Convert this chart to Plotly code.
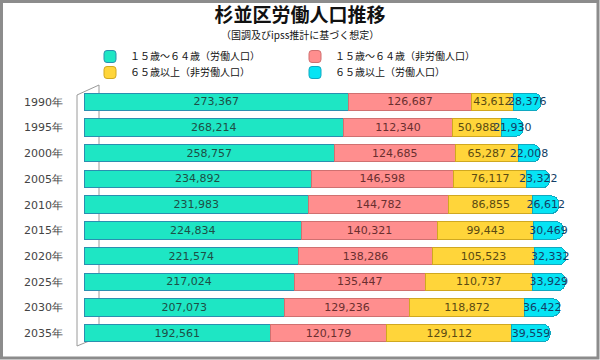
import plotly.graph_objects as go

years = ["1990年", "1995年", "2000年", "2005年", "2010年", "2015年", "2020年", "2025年", "2030年", "2035年"]
work_15_64 = [273367, 268214, 258757, 234892, 231983, 224834, 221574, 217024, 207073, 192561]
nonwork_15_64 = [126687, 112340, 124685, 146598, 144782, 140321, 138286, 135447, 129236, 120179]
nonwork_65 = [43612, 50988, 65287, 76117, 86855, 99443, 105523, 110737, 118872, 129112]
work_65 = [28376, 21930, 22008, 23322, 26612, 30469, 32332, 33929, 36422, 39559]

names = ["１５歳～６４歳（労働人口）", "１５歳～６４歳（非労働人口）", "６５歳以上（非労働人口）", "６５歳以上（労働人口）"]
series = [work_15_64, nonwork_15_64, nonwork_65, work_65]
fills = ["#1ee6c4", "#ff8e8e", "#ffd53a", "#06e4f4"]
lines = ["#2a8fb0", "#d07070", "#d0a820", "#10a8c0"]
tcolors = ["#1d4f46", "#6a2e2e", "#5a4a12", "#123e66"]
legs = ["legend", "legend2", "legend3", "legend4"]

W, H = 600, 360
L, R, T, B = 84, 16, 89, 14
pw, ph = W - L - R, H - T - B

def px(x):
    return (x - L) / pw

def py(y):
    return (H - B - y) / ph

fig = go.Figure()
for name, vals, fc, lc, tc, lg in zip(names, series, fills, lines, tcolors, legs):
    fig.add_trace(go.Bar(
        y=years, x=vals, orientation="h", name=name,
        marker=dict(color=fc, line=dict(color=lc, width=1)),
        text=[f"{v:,}" for v in vals], textposition="inside",
        insidetextanchor="middle",
        textfont=dict(family="DejaVu Sans", size=11, color=tc),
        legend=lg, showlegend=True,
    ))

shapes = [
    dict(type="rect", xref="paper", yref="paper", x0=px(1.5), x1=px(598), y0=py(1.5), y1=py(358),
         line=dict(color="#8c8c8c", width=3), layer="above"),
    dict(type="line", xref="paper", yref="paper", x0=px(77), x1=px(77), y0=py(95), y1=py(346),
         line=dict(color="#9a9a9a", width=1), layer="below"),
    dict(type="line", xref="paper", yref="paper", x0=px(99), x1=px(99), y0=py(85), y1=py(337),
         line=dict(color="#9a9a9a", width=1), layer="below"),
    dict(type="line", xref="paper", yref="paper", x0=px(77), x1=px(99), y0=py(95), y1=py(85),
         line=dict(color="#9a9a9a", width=1), layer="below"),
    dict(type="line", xref="paper", yref="paper", x0=px(77), x1=px(99), y0=py(346), y1=py(337),
         line=dict(color="#9a9a9a", width=1), layer="below"),
]

leg_font = dict(family="Noto Sans CJK JP", size=10, color="#111")
leg_pos = {"legend": (90, 42), "legend2": (295, 42), "legend3": (90, 58), "legend4": (295, 58)}
leg_layout = {}
for k, (lx, ly) in leg_pos.items():
    leg_layout[k] = dict(x=px(lx), y=py(ly), xanchor="left", yanchor="top", itemwidth=30,
                         bgcolor="rgba(0,0,0,0)", font=leg_font, visible=True)

fig.update_layout(
    width=W, height=H,
    margin=dict(l=L, r=R, t=T, b=B, autoexpand=False),
    paper_bgcolor="white", plot_bgcolor="white",
    showlegend=True,
    barmode="stack", bargap=0.32, barcornerradius=7,
    uniformtext=dict(minsize=11, mode="show"),
    title=dict(text="<b>杉並区労働人口推移</b>", x=0.5, xanchor="center", y=1 - 15 / H, yanchor="middle",
               font=dict(family="Noto Sans CJK JP", size=19, color="#111")),
    annotations=[dict(text="（国調及びipss推計に基づく想定）", xref="paper", yref="paper",
                      x=px(300), y=py(34), xanchor="center", yanchor="middle", showarrow=False,
                      font=dict(family="Noto Sans CJK JP", size=10, color="#111"))],
    xaxis=dict(range=[0, 516500], showgrid=False, zeroline=False, showticklabels=False, showline=False),
    yaxis=dict(autorange="reversed", showgrid=False, showline=False, ticks="",
               tickfont=dict(family="DejaVu Sans", size=11, color="#444"), ticklabelstandoff=20),
    shapes=shapes,
    **leg_layout,
)

fig.write_html("out.html", config={"displayModeBar": False},
               post_script="document.body.style.margin='0';document.body.style.overflow='hidden';")
